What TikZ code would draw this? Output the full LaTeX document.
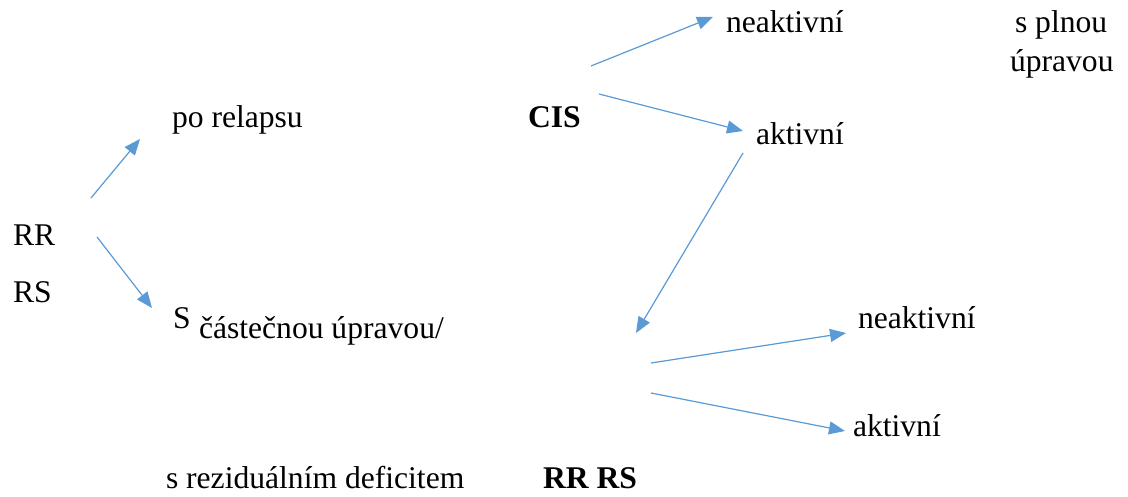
\documentclass[tikz,border=0pt]{standalone}
\usepackage{fontspec}
\setmainfont{Liberation Serif}
\newfontfamily\tnrfont{Liberation Serif}
\usetikzlibrary{arrows.meta}
\definecolor{arrowblue}{HTML}{5B9BD5}
\tikzset{
  lbl/.style={anchor=base west, inner sep=0pt, outer sep=0pt, font=\tnrfont\fontsize{31.6}{37}\selectfont},
  blbl/.style={lbl, font=\tnrfont\fontsize{31.6}{37}\selectfont\bfseries},
  conn/.style={draw=arrowblue, line width=1.2pt, -{Triangle[length=16pt,width=13pt]}, fill=arrowblue}
}
\begin{document}
\begin{tikzpicture}[x=1pt,y=-1pt]
\useasboundingbox (0,0) rectangle (1128,497);
% labels
\node[lbl] (porel) at (172,128) {po relapsu};
\node[blbl] (cis) at (528,128) {CIS};
\node[lbl] (neak1) at (726,33) {neaktivní};
\node[lbl] (splnou) at (1015,33) {s plnou};
\node[lbl] (uprav) at (1010,72) {úpravou};
\node[lbl] (akt1) at (756,145) {aktivní};
\node[lbl] (rr) at (13,246) {RR};
\node[lbl] (rs) at (13,302) {RS};
\node[lbl] (bigs) at (173,328) {S};
\node[lbl] (cast) at (199,338) {částečnou úpravou/};
\node[lbl] (neak2) at (858,328) {neaktivní};
\node[lbl] (akt2) at (853,436) {aktivní};
\node[lbl] (rezid) at (166,488) {s reziduálním deficitem};
\node[blbl] (rrrs) at (543,488) {RR RS};
% connector end points
\coordinate (a1s) at (91,198);  \coordinate (a1e) at (140,139);
\coordinate (a2s) at (97,237);  \coordinate (a2e) at (152,308);
\coordinate (a3s) at (591,66);  \coordinate (a3e) at (713,17);
\coordinate (a4s) at (599,94);  \coordinate (a4e) at (743,131);
\coordinate (a5s) at (743,153); \coordinate (a5e) at (636,333);
\coordinate (a6s) at (651,363); \coordinate (a6e) at (846,333);
\coordinate (a7s) at (651,393); \coordinate (a7e) at (845,431);
% connectors
\draw[conn] (a1s) -- (a1e);
\draw[conn] (a2s) -- (a2e);
\draw[conn] (a3s) -- (a3e);
\draw[conn] (a4s) -- (a4e);
\draw[conn] (a5s) -- (a5e);
\draw[conn] (a6s) -- (a6e);
\draw[conn] (a7s) -- (a7e);
\end{tikzpicture}
\end{document}
